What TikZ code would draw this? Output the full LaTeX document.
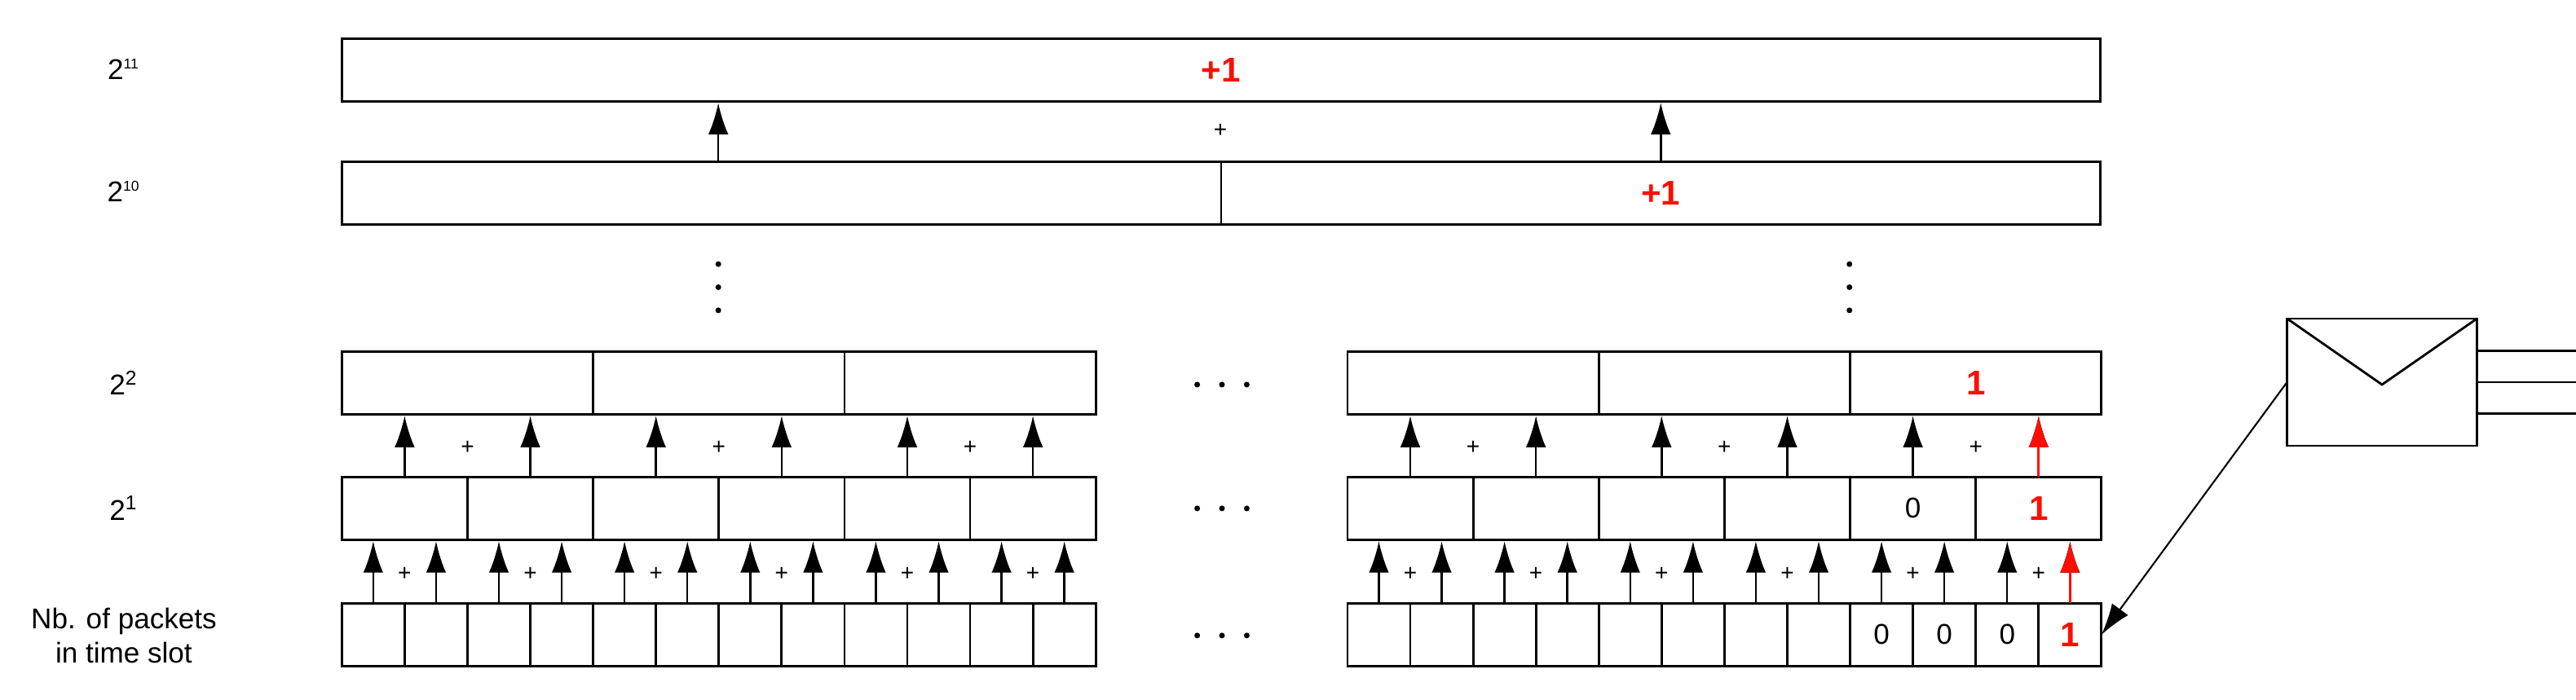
\documentclass[tikz,border=0pt]{standalone}
\usepackage{fontspec}
\setmainfont{Liberation Sans}
\usetikzlibrary{calc,arrows.meta}

\begin{document}
\begin{tikzpicture}[x=0.0203cm, y=-0.0203cm, >={Latex[length=11pt,width=7pt]}, line width=0.8pt]
      \tikzstyle{cell}=[draw, inner sep=0pt, outer sep=0pt, minimum height=38*0.0203cm]
      \tikzstyle{up}=[->, line width=0.7pt, shorten >=0.5pt]
      \tikzstyle{hot}=[text=red!90!orange, font=\large\bfseries]
      \tikzstyle{plus}=[font=\footnotesize, inner sep=0pt]
      \tikzstyle{lbl}=[font=\normalsize, align=center]
      \tikzstyle{dot}=[fill=black, circle, inner sep=0pt, minimum size=2pt]
      \useasboundingbox (0,0) rectangle (1560,424);

      % levels
      \node[lbl] (l11) at (75,42) {2\textsuperscript{\tiny 11}};
      \node[lbl] (l10) at (75,116) {2\textsuperscript{\tiny 10}};
      \node[lbl] (l2) at (75,232) {2\textsuperscript{2}};
      \node[lbl] (l1) at (75,308) {2\textsuperscript{1}};
      \node[lbl] (l0) at (75,385) {Nb. of packets\\in time slot};

      \node[cell, minimum width=1065*0.0203cm] (t11) at (739.5,42.5) {};
      \node[hot] at (t11) {+1};
      \node[cell, minimum width=532.5*0.0203cm] (h1) at (473.25,117) {};
      \node[cell, minimum width=532.5*0.0203cm] (h2) at (1005.75,117) {};
      \node[hot] at (h2) {+1};
      \coordinate (pa) at (435,0);
      \draw[up] (pa |- h1.north) -- (pa |- t11.south);
      \draw[up] (h2.north) -- (h2.north |- t11.south);
      \node[plus] at (739,79) {+};

      \foreach \xo in {435,1120}
        \foreach \yo in {160,174,188}
          \node[dot] at (\xo,\yo) {};
      \foreach \yo in {233,308,385}
        \foreach \xo in {725,740,755}
          \node[dot] at (\xo,\yo) {};

      \foreach \g/\xo in {L/207,R/816} {
        \foreach \i in {1,...,3}
          \node[cell, minimum width=152.2*0.0203cm] (q\g\i) at ({\xo+(\i-0.5)*152.2},232) {};
        \foreach \i in {1,...,6}
          \node[cell, minimum width=76.1*0.0203cm] (o\g\i) at ({\xo+(\i-0.5)*76.1},308) {};
        \foreach \i in {1,...,12}
          \node[cell, minimum width=38.05*0.0203cm] (b\g\i) at ({\xo+(\i-0.5)*38.05},384.5) {};
      }

      % sums
      \foreach \g in {L,R} {
        \foreach \j [evaluate=\j as \k using int(2*\j-1), evaluate=\j as \m using int(2*\j)] in {1,...,6} {
          \draw[up] (b\g\k.north) -- (b\g\k.north |- o\g\j.south);
          \draw[up] (b\g\m.north) -- (b\g\m.north |- o\g\j.south);
          \node[plus] at ($(b\g\k.north)!0.5!(b\g\m.north)+(0,-18)$) {+};
        }
        \foreach \j [evaluate=\j as \k using int(2*\j-1), evaluate=\j as \m using int(2*\j)] in {1,...,3} {
          \draw[up] (o\g\k.north) -- (o\g\k.north |- q\g\j.south);
          \draw[up] (o\g\m.north) -- (o\g\m.north |- q\g\j.south);
          \node[plus] at ($(o\g\k.north)!0.5!(o\g\m.north)+(0,-18)$) {+};
        }
      }
      \draw[up, red!90!orange, line width=0.9pt] (bR12.north) -- (bR12.north |- oR6.south);
      \draw[up, red!90!orange, line width=0.9pt] (oR6.north) -- (oR6.north |- qR3.south);

      \foreach \i in {9,10,11} \node at (bR\i) {0};
      \node[hot] at (bR12) {1};
      \node at (oR5) {0};
      \node[hot] at (oR6) {1};
      \node[hot] at (qR3) {1};

      % envelope
      \node[draw, minimum width=115*0.0203cm, minimum height=77*0.0203cm, inner sep=0pt, outer sep=0pt] (env) at (1442.5,231.5) {};
      \draw (env.north west) -- ($(env.north)+(0,40)$) -- (env.north east);
      \foreach \yo in {-19,0,19}
        \draw ($(env.east)+(0,\yo)$) -- ($(env.east)+(60,\yo)$);
      \draw[->, line width=0.6pt] (env.west) -- (bR12.east);
\end{tikzpicture}
\end{document}
